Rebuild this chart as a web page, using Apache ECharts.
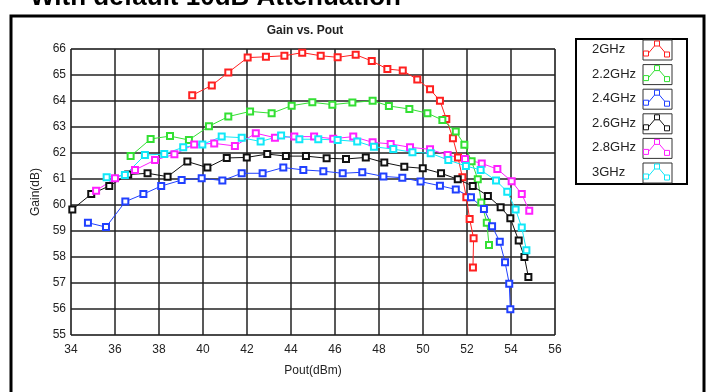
<!DOCTYPE html>
<html lang="en">
<head>
    <meta charset="utf-8"/>
    <script src="https://cdn.jsdelivr.net/npm/echarts@6/dist/echarts.min.js"></script>
    <style>
        body { margin: 0; background: #fff; }
        #main { width: 710px; height: 392px; }
    </style>
</head>
<body>
<div id="main"></div>
<script>
    // Pout (dBm) / Gain (dB), one pair of arrays per frequency
    var pout2G = [39.51, 40.40, 41.15, 42.03, 42.86, 43.70, 44.51, 45.35, 46.12, 46.94, 47.67, 48.38, 49.08, 49.74, 50.32, 50.77, 51.06, 51.36, 51.59, 51.79, 51.97, 52.12, 52.30, 52.27];
    var gain2G = [64.22, 64.60, 65.10, 65.67, 65.70, 65.74, 65.86, 65.74, 65.68, 65.78, 65.54, 65.23, 65.17, 64.83, 64.45, 64.01, 63.31, 62.57, 61.83, 61.07, 60.30, 59.46, 58.72, 57.60];

    var pout22G = [36.71, 37.62, 38.50, 39.36, 40.27, 41.15, 42.14, 43.12, 44.03, 44.97, 45.88, 46.79, 47.71, 48.45, 49.38, 50.20, 50.88, 51.49, 51.88, 52.21, 52.49, 52.65, 52.90, 53.00];
    var gain22G = [61.88, 62.54, 62.65, 62.50, 63.03, 63.40, 63.60, 63.53, 63.82, 63.95, 63.86, 63.94, 64.01, 63.81, 63.69, 63.53, 63.27, 62.83, 62.32, 61.68, 60.99, 60.10, 59.32, 58.46];

    var pout24G = [34.77, 35.59, 36.47, 37.29, 38.10, 39.03, 39.94, 40.88, 41.76, 42.71, 43.65, 44.56, 45.47, 46.35, 47.24, 48.20, 49.06, 49.89, 50.77, 51.49, 52.18, 52.77, 53.14, 53.49, 53.73, 53.92, 53.97];
    var gain24G = [59.32, 59.15, 60.13, 60.42, 60.73, 60.96, 61.03, 60.94, 61.22, 61.22, 61.44, 61.35, 61.30, 61.22, 61.26, 61.10, 61.05, 60.90, 60.74, 60.60, 60.30, 59.85, 59.18, 58.59, 57.80, 56.97, 55.99];

    var pout26G = [34.06, 34.92, 35.74, 36.60, 37.48, 38.39, 39.29, 40.20, 41.08, 41.99, 42.92, 43.77, 44.68, 45.62, 46.50, 47.40, 48.24, 49.15, 49.99, 50.82, 51.58, 52.26, 52.95, 53.53, 53.97, 54.35, 54.61, 54.79];
    var gain26G = [59.83, 60.42, 60.73, 61.17, 61.22, 61.09, 61.67, 61.44, 61.81, 61.83, 61.96, 61.88, 61.88, 61.80, 61.77, 61.83, 61.63, 61.47, 61.41, 61.22, 60.99, 60.73, 60.35, 59.91, 59.49, 58.63, 58.00, 57.23];

    var pout28G = [35.14, 36.00, 36.91, 37.82, 38.70, 39.60, 40.51, 41.45, 42.40, 43.27, 44.15, 45.05, 45.92, 46.83, 47.71, 48.53, 49.41, 50.32, 51.12, 51.91, 52.67, 53.38, 54.03, 54.49, 54.83];
    var gain28G = [60.55, 61.03, 61.35, 61.73, 61.95, 62.33, 62.37, 62.27, 62.76, 62.59, 62.63, 62.63, 62.55, 62.63, 62.41, 62.35, 62.22, 62.14, 61.92, 61.77, 61.60, 61.38, 60.91, 60.42, 59.78];

    var pout3G = [35.62, 36.45, 37.36, 38.24, 39.10, 39.97, 40.85, 41.76, 42.62, 43.55, 44.38, 45.24, 46.12, 47.01, 47.77, 48.65, 49.52, 50.35, 51.15, 51.95, 52.62, 53.32, 53.83, 54.21, 54.49, 54.70];
    var gain3G = [61.07, 61.15, 61.92, 61.96, 62.22, 62.33, 62.63, 62.59, 62.44, 62.67, 62.53, 62.53, 62.50, 62.44, 62.24, 62.15, 62.03, 61.99, 61.73, 61.50, 61.35, 60.94, 60.51, 59.83, 59.13, 58.26];

    var names = ['2GHz', '2.2GHz', '2.4GHz', '2.6GHz', '2.8GHz', '3GHz'];
    var colors = ['#ff2020', '#33e033', '#2040ff', '#111111', '#ff20ff', '#10e8f8'];
    var xs = [pout2G, pout22G, pout24G, pout26G, pout28G, pout3G];
    var ys = [gain2G, gain22G, gain24G, gain26G, gain28G, gain3G];

    function zip(a, b) {
        var out = [];
        for (var i = 0; i < a.length; i++) out.push([a[i], b[i]]);
        return out;
    }

    var series = [];
    for (var i = 0; i < names.length; i++) {
        series.push({
            name: names[i],
            type: 'line',
            data: zip(xs[i], ys[i]),
            symbol: 'emptyRect',
            symbolSize: 6,
            showSymbol: true,
            animation: false,
            lineStyle: {color: colors[i], width: 1},
            itemStyle: {color: colors[i], borderWidth: 1}
        });
    }

    // legend drawn by hand: text on the left, small chevron icon in a box on the right
    var graphics = [
        {type: 'text', left: 30, top: -15, style: {text: 'With default 10dB Attenuation', font: 'bold 26px "Liberation Sans", Arial', fill: '#000'}},
        {type: 'rect', shape: {x: 11, y: 16, width: 693, height: 400}, style: {fill: 'none', stroke: '#000', lineWidth: 3}},
        {type: 'rect', shape: {x: 576, y: 39, width: 111, height: 145}, style: {fill: '#fff', stroke: '#000', lineWidth: 2}}
    ];
    for (var k = 0; k < names.length; k++) {
        var cy = 50 + k * 24.6;
        graphics.push({type: 'text', left: 592, top: cy - 7, style: {text: names[k], font: '13px "Liberation Sans", Arial', fill: '#222'}});
        graphics.push({type: 'rect', shape: {x: 643, y: cy - 10, width: 29, height: 20}, style: {fill: '#fff', stroke: '#333', lineWidth: 1}});
        graphics.push({type: 'polyline', shape: {points: [[646, cy + 6], [657, cy - 7], [668, cy + 6]]}, style: {stroke: colors[k], lineWidth: 1, fill: 'none'}});
        var pts = [[646, cy + 3], [657, cy - 7], [667, cy + 4]];
        for (var j = 0; j < pts.length; j++) {
            graphics.push({type: 'rect', shape: {x: pts[j][0] - 2.5, y: pts[j][1] - 2, width: 5, height: 5}, style: {fill: '#fff', stroke: colors[k], lineWidth: 1}});
        }
    }

    var chart = echarts.init(document.getElementById('main'));
    chart.setOption({
        backgroundColor: '#fff',
        animation: false,
        title: {
            text: 'Gain vs. Pout',
            left: 300,
            top: 20,
            textAlign: 'center',
            textStyle: {fontSize: 12, fontWeight: 'bold', color: '#222', fontFamily: '"Liberation Sans", Arial'}
        },
        legend: {show: false},
        grid: {left: 71, right: 155, top: 49, bottom: 57, show: true, borderColor: '#888', borderWidth: 1},
        xAxis: {
            type: 'value',
            min: 34, max: 56, interval: 2,
            name: 'Pout(dBm)',
            nameLocation: 'middle',
            nameGap: 30,
            nameTextStyle: {fontSize: 12, color: '#222', fontFamily: '"Liberation Sans", Arial'},
            axisLine: {show: false},
            axisTick: {show: false},
            axisLabel: {fontSize: 12, color: '#222', margin: 9, fontFamily: '"Liberation Sans", Arial'},
            splitLine: {lineStyle: {color: '#222', width: 1.5}}
        },
        yAxis: {
            type: 'value',
            min: 55, max: 66, interval: 1,
            name: 'Gain(dB)',
            nameLocation: 'middle',
            nameGap: 18,
            nameTextStyle: {fontSize: 12, color: '#222', fontFamily: '"Liberation Sans", Arial'},
            axisLine: {show: false},
            axisTick: {show: false},
            axisLabel: {fontSize: 12, color: '#222', margin: 5, fontFamily: '"Liberation Sans", Arial'},
            splitLine: {lineStyle: {color: '#222', width: 1.5}}
        },
        graphic: graphics,
        series: series
    });
</script>
</body>
</html>
